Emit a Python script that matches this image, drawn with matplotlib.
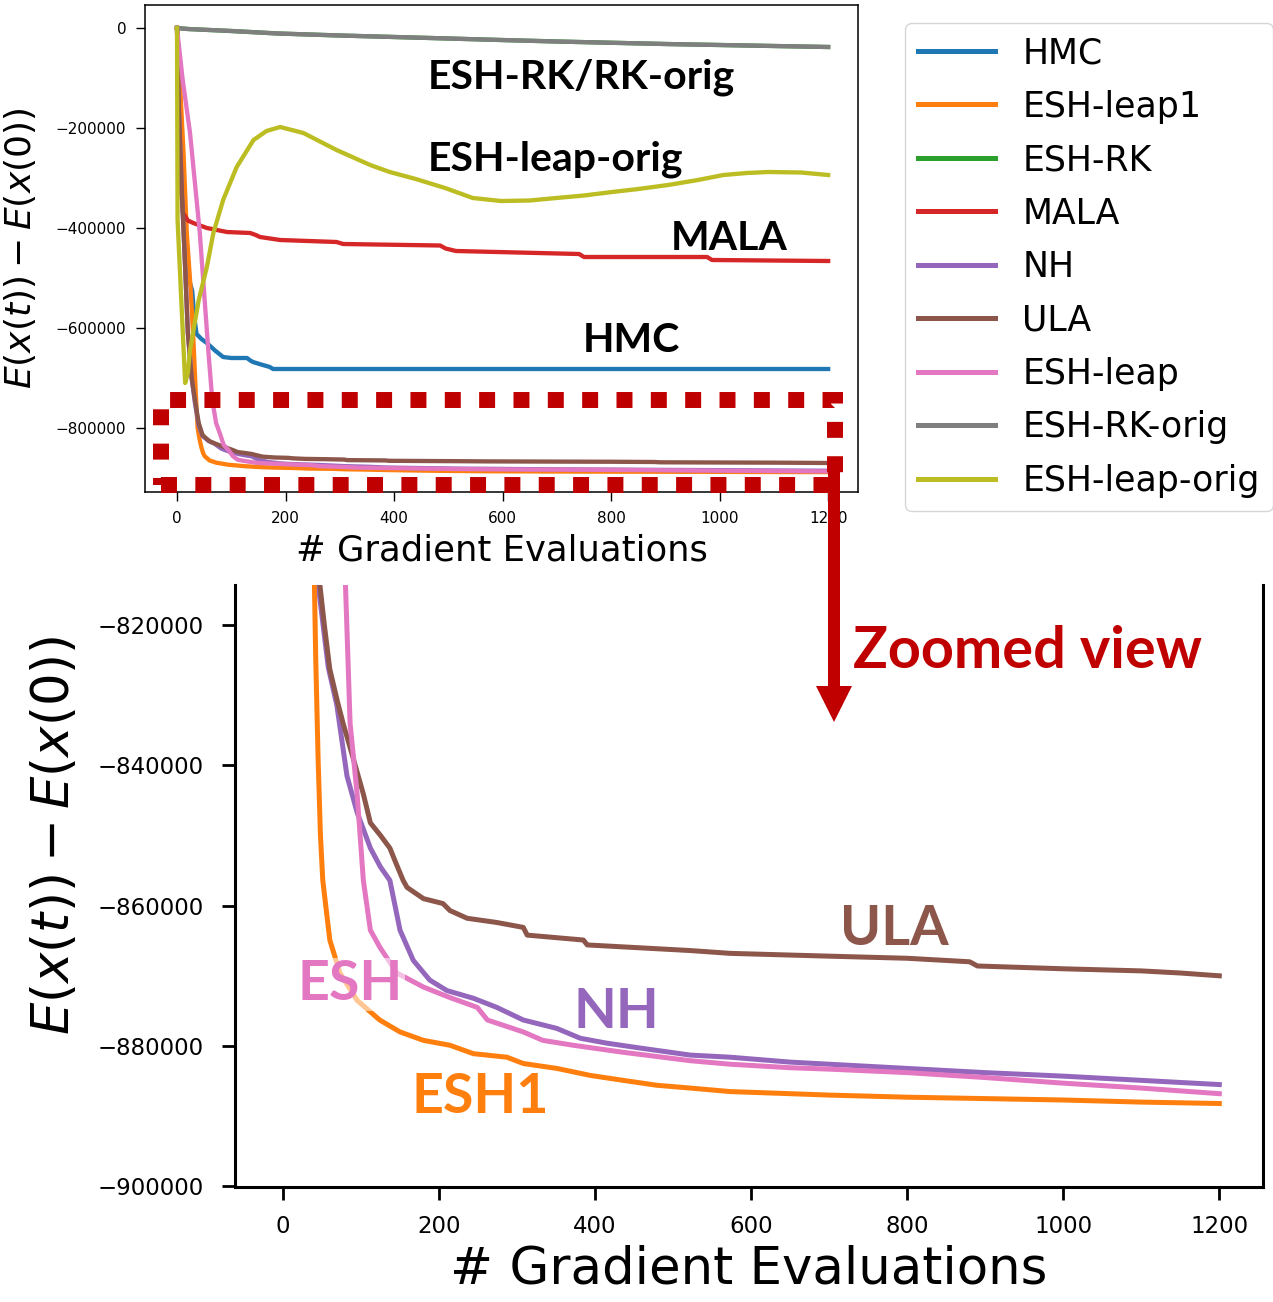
import matplotlib
matplotlib.use('Agg')
import matplotlib.pyplot as plt
from matplotlib.patches import Rectangle, FancyArrow

# ---------------- data ----------------
labels = ['HMC', 'ESH-leap1', 'ESH-RK', 'MALA', 'NH', 'ULA', 'ESH-leap', 'ESH-RK-orig', 'ESH-leap-orig']
colors = ['#1f77b4', '#ff7f0e', '#2ca02c', '#d62728', '#9467bd', '#8c564b', '#e377c2', '#7f7f7f', '#bcbd22']

hmc_x = [0, 5, 10, 15, 20, 24, 28, 32, 36, 45, 55, 70, 85, 100, 129, 135, 140, 155, 171, 177, 250, 400, 600, 800, 1000, 1200]
hmc_y = [0, -150000, -300000, -420000, -490000, -510000, -526000, -580000, -612000, -622000, -630000, -645000,
         -658000, -660000, -660000, -665000, -668000, -673000, -678000, -682000, -682000, -682000, -682000,
         -682000, -682000, -682000]

leap1_x = [0, 5, 12, 18, 25, 30, 35, 38, 42, 45, 48, 51, 60, 73, 95, 124, 150, 180, 214, 244, 287, 308, 351,
           394, 436, 479, 522, 573, 650, 700, 800, 900, 1000, 1100, 1200]
leap1_y = [0, -100000, -250000, -410000, -520000, -620000, -740000, -800000, -825000, -839000, -850000, -856400,
           -864900, -869600, -873500, -876300, -878000, -879200, -879900, -881100, -881600, -882500, -883200,
           -884200, -884900, -885600, -886000, -886500, -886800, -887000, -887300, -887500, -887700, -888000,
           -888200]

rk_x = [0, 20, 100, 186, 300, 400, 500, 597, 700, 800, 900, 1000, 1100, 1200]
rk_y = [0, -2000, -6000, -11000, -15000, -18000, -21000, -24000, -27000, -29500, -32000, -34000, -36000, -38000]

mala_x = [0, 3, 8, 11, 20, 30, 55, 92, 135, 145, 153, 190, 294, 306, 485, 495, 514, 741, 750, 977, 986, 1200]
mala_y = [0, -200000, -330000, -370000, -385000, -390000, -400000, -408000, -410000, -414000, -418000, -424000,
          -428000, -432000, -435000, -441000, -446000, -452000, -458000, -458000, -464000, -466000]

nh_x = [0, 3, 9, 15, 20, 27, 33, 40, 47, 58, 69, 82, 95, 112, 125, 137, 150, 167, 188, 210, 244, 274, 308, 351,
        381, 415, 458, 522, 573, 650, 700, 800, 900, 1000, 1100, 1200]
nh_y = [0, -150000, -330000, -480000, -610000, -700000, -750000, -795000, -816000, -826000, -831400, -841500,
        -846700, -851800, -854500, -856400, -863500, -867800, -870600, -872100, -873200, -874500, -876300,
        -877500, -878900, -879600, -880300, -881300, -881600, -882300, -882600, -883200, -883800, -884300,
        -884900, -885500]

ula_x = [0, 3, 9, 15, 20, 27, 33, 40, 47, 53, 60, 70, 77, 90, 103, 112, 125, 137, 145, 154, 159, 180, 205, 214,
         236, 274, 308, 313, 385, 390, 522, 573, 700, 800, 880, 890, 1000, 1100, 1150, 1200]
ula_y = [0, -150000, -330000, -480000, -610000, -700000, -744000, -790000, -814000, -820000, -826300, -831000,
         -834000, -839000, -844100, -848200, -850000, -851800, -854000, -856400, -857400, -859000, -859700,
         -860700, -861800, -862400, -863100, -864200, -864900, -865600, -866400, -866800, -867200, -867500,
         -868000, -868600, -869000, -869300, -869600, -870000]

leap_x = [0, 10, 24, 42, 50, 58, 65, 72, 80, 86, 95, 103, 112, 124, 146, 180, 214, 249, 262, 308, 333, 372,
          436, 522, 573, 650, 700, 800, 900, 1000, 1100, 1200]
leap_y = [0, -100000, -210000, -410000, -530000, -650000, -744000, -790000, -814000, -834000, -844100, -856400,
          -863500, -865900, -869600, -871600, -873100, -874500, -876300, -878000, -879200, -879900, -880900,
          -882100, -882600, -883100, -883300, -883800, -884500, -885300, -886000, -886800]

rkorig_x = [0, 20, 100, 186, 300, 400, 500, 597, 700, 800, 900, 1000, 1100, 1200]
rkorig_y = [0, -2000, -6000, -11000, -15000, -18000, -21000, -24000, -27000, -29500, -32000, -34000, -36000, -38000]

leaporig_x = [0, 1, 15, 20, 24, 40, 55, 67, 85, 110, 141, 165, 190, 233, 294, 356, 392, 440, 494, 545, 597, 650,
              699, 750, 802, 850, 905, 960, 1007, 1050, 1089, 1150, 1200]
leaporig_y = [0, -384000, -710000, -690000, -644000, -544000, -478000, -410000, -344000, -278000, -224000,
              -206000, -198000, -210000, -244000, -274000, -288000, -302000, -320000, -340000, -346000, -345000,
              -340000, -335000, -328000, -322000, -314000, -304000, -294000, -290000, -288000, -289000, -294000]

series_x = [hmc_x, leap1_x, rk_x, mala_x, nh_x, ula_x, leap_x, rkorig_x, leaporig_x]
series_y = [hmc_y, leap1_y, rk_y, mala_y, nh_y, ula_y, leap_y, rkorig_y, leaporig_y]

top_yticks = [0, -200000, -400000, -600000, -800000]
top_xticks = [0, 200, 400, 600, 800, 1000, 1200]
bot_yticks = [-820000, -840000, -860000, -880000, -900000]
bot_xticks = [0, 200, 400, 600, 800, 1000, 1200]

DARK_RED = '#C00000'
ANNOT_FONT = ['Lato', 'DejaVu Sans']

# ---------------- figure ----------------
W, H = 1273, 1302
fig = plt.figure(figsize=(W / 100, H / 100), dpi=100)


def fx(px):
    return px / W


def fy(py):
    return 1 - py / H


# top axes
ax1 = fig.add_axes([fx(145), fy(492), (858 - 145) / W, (492 - 5) / H])
for xs, ys, c, lab in zip(series_x, series_y, colors, labels):
    ax1.plot(xs, ys, color=c, lw=3.1, label=lab)
ax1.set_xlim(-59, 1255)
ax1.set_ylim(-928000, 46000)
ax1.set_xticks(top_xticks)
ax1.set_yticks(top_yticks)
ax1.tick_params(labelsize=11, length=6.5, width=1.0, pad=7)
for s in ax1.spines.values():
    s.set_linewidth(1.1)
ax1.set_xlabel('# Gradient Evaluations', fontsize=25.5)
ax1.xaxis.set_label_coords(0.5, -0.085)
ax1.set_ylabel(r'$E(x(t)) - E(x(0))$', fontsize=26)
ax1.yaxis.set_label_coords(-0.150, 0.5)

ann_kw = dict(fontfamily=ANNOT_FONT, fontweight='bold', fontsize=29.5, va='baseline', ha='left')
ax1.text(463, -120000, 'ESH-RK/RK-orig', color='black', **ann_kw)
ax1.text(463, -284000, 'ESH-leap-orig', color='black', **ann_kw)
ax1.text(909, -444000, 'MALA', color='black', **ann_kw)
ax1.text(748, -648000, 'HMC', color='black', **ann_kw)

leg = ax1.legend(loc='upper left', bbox_to_anchor=(fx(905), fy(23)), bbox_transform=fig.transFigure,
                 fontsize=25, handlelength=2.2, handletextpad=0.8, labelspacing=0.56, borderpad=0.38,
                 borderaxespad=0)
for h in leg.get_lines():
    h.set_linewidth(3.6)

# bottom axes
ax2 = fig.add_axes([fx(235), fy(1187), (1263 - 235) / W, (1187 - 585) / H])
for xs, ys, c in zip(series_x, series_y, colors):
    ax2.plot(xs, ys, color=c, lw=3.6)
ax2.set_xlim(-61.5, 1256)
ax2.set_ylim(-900100, -814300)
ax2.set_xticks(bot_xticks)
ax2.set_yticks(bot_yticks)
ax2.spines['top'].set_visible(False)
for s in ['left', 'bottom', 'right']:
    ax2.spines[s].set_linewidth(2.2)
ax2.tick_params(labelsize=16.5, length=9.4, width=2.0)
ax2.tick_params(axis='y', pad=13)
ax2.tick_params(axis='x', pad=11)
ax2.set_xlabel('# Gradient Evaluations', fontsize=37)
ax2.xaxis.set_label_coords(0.5, -0.095)
ax2.set_ylabel(r'$E(x(t)) - E(x(0))$', fontsize=37)
ax2.yaxis.set_label_coords(-0.151, 0.585)

bkw = dict(fontfamily=ANNOT_FONT, fontweight='bold', fontsize=40, va='baseline', ha='left')
ax2.text(714, -865650, 'ULA', color=colors[5], **bkw)
ax2.text(372, -877500, 'NH', color=colors[4], **bkw)
ax2.text(19, -873500, 'ESH', color=colors[6],
         bbox=dict(facecolor='white', alpha=0.55, edgecolor='none', pad=1), **bkw)
ax2.text(165, -889500, 'ESH1', color=colors[1], **bkw)

# dashed "zoom" box, arrow, caption
rect = Rectangle((fx(161), fy(485)), (835 - 161) / W, (485 - 400) / H, transform=fig.transFigure,
                 fill=False, edgecolor=DARK_RED, linewidth=11.5, linestyle=(0, (1, 1.15)),
                 capstyle='butt', joinstyle='miter', zorder=5)
fig.add_artist(rect)

arrow = FancyArrow(fx(834), fy(470), 0, -(722 - 470) / H, width=12 / W, head_width=36 / W,
                   head_length=36 / H, length_includes_head=True, transform=fig.transFigure,
                   color=DARK_RED, linewidth=0, zorder=6)
fig.add_artist(arrow)

fig.text(fx(853), fy(668), 'Zoomed view', color=DARK_RED, fontfamily=ANNOT_FONT, fontweight='bold',
         fontsize=41.5, va='baseline', ha='left')

fig.savefig('out.png', dpi=100)
